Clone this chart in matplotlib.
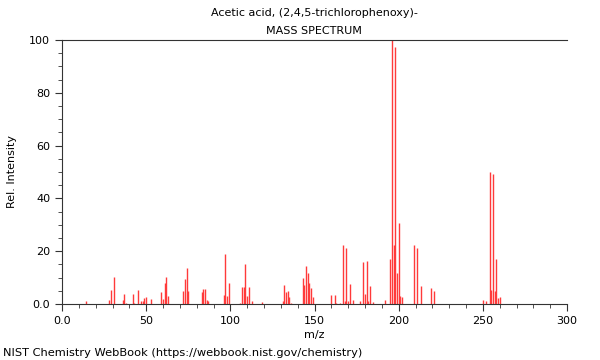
import matplotlib
matplotlib.use("Agg")
import matplotlib.pyplot as plt
from matplotlib.ticker import MultipleLocator, FuncFormatter

# peak list (m/z, relative intensity)
mz = [14, 28, 29, 31, 36, 37, 38, 42, 43, 45, 47, 48, 49, 50, 53,
      59, 60, 61, 62, 63, 72, 73, 74, 75, 83, 84, 85, 86, 87,
      96, 97, 98, 99, 106, 107, 108, 109, 110, 111, 113, 119,
      131, 132, 133, 134, 135, 136, 143, 144, 145, 146, 147, 148, 149,
      160, 162, 163, 165, 167, 168, 169, 170, 171, 173, 177,
      179, 180, 181, 182, 183, 185, 192, 195, 196, 197, 198, 199, 200, 201, 202,
      209, 211, 213, 219, 221, 250, 252, 254, 255, 256, 257, 258, 259, 260]
intensity = [1.3, 1.5, 5.4, 10.1, 1.5, 3.9, 0.5, 3.9, 0.5, 5.4, 1.0, 1.0, 2.3, 2.5, 2.0,
             4.7, 1.9, 8.0, 10.4, 3.2, 5.0, 9.5, 13.8, 5.0, 4.7, 5.5, 5.5, 1.5, 1.0,
             3.4, 19.1, 3.0, 8.0, 0.5, 6.5, 6.5, 15.0, 3.2, 6.6, 1.0, 0.6,
             1.0, 7.2, 4.7, 5.0, 2.5, 0.5, 10.0, 7.2, 14.4, 11.6, 8.0, 5.9, 2.8,
             3.4, 3.4, 0.5, 0.5, 22.2, 1.2, 21.3, 1.0, 7.4, 1.5, 1.0,
             16.0, 3.8, 16.3, 1.3, 6.7, 0.6, 1.5, 17.2, 100.0, 22.5, 97.5, 11.7, 30.7, 2.9, 2.5,
             22.5, 21.2, 7.0, 6.2, 4.8, 1.4, 1.0, 49.9, 5.2, 49.4, 4.9, 16.9, 2.3, 2.7]

title1 = "Acetic acid, (2,4,5-trichlorophenoxy)-"
title2 = "MASS SPECTRUM"
footer = "NIST Chemistry WebBook (https://webbook.nist.gov/chemistry)"

plt.rcParams.update({'font.family': 'DejaVu Sans', 'font.size': 8})

fig = plt.figure(figsize=(6, 3.6), dpi=100)
ax = fig.add_axes([62/600, 1-304/360, 505/600, 264/360])

ax.vlines(mz, 0, intensity, colors="#ff3a3a", linewidth=1.0)

ax.set_xlim(0, 300)
ax.set_ylim(0, 100)
ax.xaxis.set_major_locator(MultipleLocator(50))
ax.xaxis.set_minor_locator(MultipleLocator(10))
ax.yaxis.set_major_locator(MultipleLocator(20))
ax.yaxis.set_minor_locator(MultipleLocator(5))
ax.xaxis.set_major_formatter(FuncFormatter(lambda v, p: "0.0" if v == 0 else "%d" % v))
ax.yaxis.set_major_formatter(FuncFormatter(lambda v, p: "0.0" if v == 0 else "%d" % v))
ax.tick_params(which="major", length=5, width=0.8, labelsize=8, color="#333333")
ax.tick_params(which="minor", length=3, width=0.6, color="#333333")
ax.spines["right"].set_visible(False)
for s in ["left", "bottom", "top"]:
    ax.spines[s].set_color("#333333")
    ax.spines[s].set_linewidth(0.8)

ax.set_xlabel("m/z", fontsize=8, labelpad=3)
ax.set_ylabel("Rel. Intensity", fontsize=8, labelpad=9)

fig.text(314/600, 1-13/360, title1, ha="center", va="center", fontsize=8)
fig.text(314/600, 1-31/360, title2, ha="center", va="center", fontsize=8)
fig.text(3/600, 1-353/360, footer, ha="left", va="center", fontsize=8.2)

fig.savefig("out.png", dpi=100)
